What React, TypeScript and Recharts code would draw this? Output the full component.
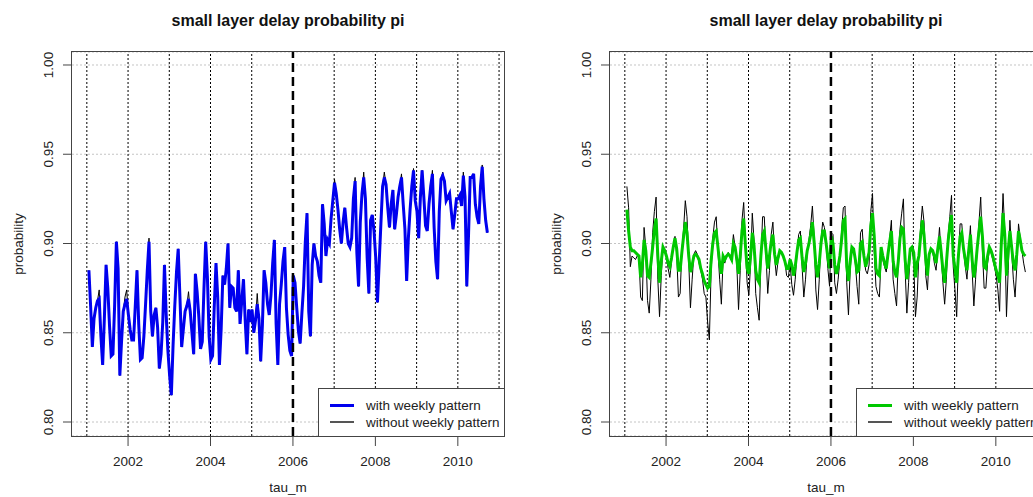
import React from 'react';
import { LineChart, Line, XAxis, YAxis, CartesianGrid, ReferenceLine } from 'recharts';

// time axis: 24 samples per year starting early 2001
const START_YEAR = 2001.05;
const STEP = 1 / 24;
const YEAR_TICKS = [2002, 2004, 2006, 2008, 2010];
const YEAR_LINES = [2001, 2002, 2003, 2004, 2005, 2007, 2008, 2009, 2010, 2011];
const BREAK_YEAR = 2006;
const PROB_TICKS = [0.8, 0.85, 0.9, 0.95, 1.0];
const X_DOMAIN: [number, number] = [2000.64, 2011.12];
const Y_DOMAIN: [number, number] = [0.79216, 1.00728];

const TITLE = 'small layer delay probability pi';
const LEGEND_LABELS = ['with weekly pattern', 'without weekly pattern'];

// left panel: with weekly pattern (blue) / without (black)
const leftWeekly = [
  0.885, 0.865, 0.842, 0.858, 0.864, 0.868, 0.869, 0.848, 0.832, 0.858,
  0.888, 0.875, 0.854, 0.837, 0.838, 0.866, 0.901, 0.886, 0.826, 0.845,
  0.862, 0.866, 0.869, 0.860, 0.852, 0.846, 0.846, 0.865, 0.885, 0.855,
  0.835, 0.836, 0.848, 0.866, 0.885, 0.901, 0.862, 0.848, 0.860, 0.864,
  0.853, 0.830, 0.838, 0.856, 0.888, 0.860, 0.840, 0.826, 0.815, 0.843,
  0.865, 0.884, 0.897, 0.870, 0.842, 0.852, 0.862, 0.865, 0.869, 0.862,
  0.850, 0.838, 0.883, 0.873, 0.859, 0.841, 0.845, 0.875, 0.901, 0.881,
  0.848, 0.835, 0.837, 0.865, 0.889, 0.870, 0.832,
  0.852, 0.882, 0.877, 0.886, 0.900, 0.864, 0.876, 0.875, 0.864, 0.862,
  0.885, 0.855, 0.868, 0.880, 0.857, 0.838, 0.863, 0.856, 0.863, 0.850,
  0.857, 0.866, 0.858, 0.834, 0.854, 0.885, 0.878, 0.866, 0.860, 0.871,
  0.889, 0.902, 0.855, 0.832, 0.866, 0.877, 0.890, 0.898, 0.864, 0.849,
  0.840, 0.837,
  0.882, 0.878, 0.864, 0.851, 0.844, 0.861, 0.876, 0.901, 0.917, 0.862,
  0.848, 0.888, 0.900, 0.893, 0.890, 0.882, 0.878, 0.922, 0.911, 0.893,
  0.902, 0.900, 0.914, 0.924, 0.934, 0.928, 0.919, 0.908, 0.900, 0.912,
  0.920, 0.909, 0.900, 0.898, 0.903, 0.925, 0.935, 0.895, 0.876, 0.912,
  0.928, 0.937, 0.925, 0.892, 0.872, 0.913, 0.916, 0.907, 0.892, 0.867,
  0.889, 0.911, 0.932, 0.937, 0.933, 0.920, 0.909, 0.922, 0.930, 0.908,
  0.916, 0.926, 0.932, 0.937, 0.922, 0.908, 0.879, 0.903, 0.919, 0.932,
  0.941, 0.924, 0.918, 0.903, 0.926, 0.941, 0.926, 0.910, 0.907, 0.922,
  0.932, 0.939, 0.909, 0.890, 0.880, 0.918, 0.936, 0.938, 0.935, 0.924,
  0.926, 0.928, 0.918, 0.908, 0.916, 0.925, 0.925, 0.927, 0.921, 0.938,
  0.926, 0.876, 0.904, 0.937, 0.937, 0.939, 0.922, 0.915, 0.911, 0.932,
  0.943, 0.925, 0.913, 0.906,
];

const leftPlain = [
  0.885, 0.865, 0.842, 0.858, 0.864, 0.868, 0.874, 0.848, 0.832, 0.858,
  0.888, 0.875, 0.854, 0.837, 0.838, 0.866, 0.901, 0.886, 0.826, 0.845,
  0.862, 0.870, 0.874, 0.860, 0.852, 0.846, 0.846, 0.865, 0.885, 0.855,
  0.835, 0.836, 0.848, 0.866, 0.885, 0.903, 0.862, 0.848, 0.860, 0.864,
  0.853, 0.830, 0.838, 0.856, 0.888, 0.860, 0.840, 0.826, 0.815, 0.843,
  0.865, 0.884, 0.897, 0.870, 0.842, 0.852, 0.862, 0.865, 0.873, 0.862,
  0.850, 0.838, 0.883, 0.873, 0.859, 0.841, 0.845, 0.875, 0.901, 0.881,
  0.848, 0.835, 0.837, 0.865, 0.889, 0.870, 0.832,
  0.852, 0.882, 0.877, 0.886, 0.900, 0.864, 0.876, 0.875, 0.864, 0.862,
  0.885, 0.855, 0.868, 0.880, 0.857, 0.838, 0.863, 0.856, 0.863, 0.850,
  0.857, 0.872, 0.858, 0.834, 0.854, 0.885, 0.878, 0.866, 0.860, 0.871,
  0.889, 0.902, 0.855, 0.832, 0.866, 0.877, 0.890, 0.898, 0.864, 0.849,
  0.840, 0.837,
  0.882, 0.878, 0.864, 0.851, 0.844, 0.861, 0.876, 0.901, 0.917, 0.862,
  0.848, 0.888, 0.900, 0.893, 0.890, 0.882, 0.878, 0.922, 0.911, 0.893,
  0.902, 0.900, 0.914, 0.924, 0.936, 0.928, 0.919, 0.908, 0.900, 0.912,
  0.920, 0.909, 0.900, 0.898, 0.903, 0.925, 0.937, 0.895, 0.876, 0.912,
  0.928, 0.940, 0.925, 0.892, 0.872, 0.913, 0.916, 0.907, 0.892, 0.867,
  0.889, 0.911, 0.932, 0.940, 0.933, 0.920, 0.909, 0.922, 0.930, 0.908,
  0.916, 0.926, 0.932, 0.939, 0.922, 0.908, 0.879, 0.903, 0.919, 0.932,
  0.942, 0.924, 0.918, 0.903, 0.926, 0.941, 0.926, 0.910, 0.907, 0.922,
  0.932, 0.941, 0.909, 0.890, 0.880, 0.918, 0.936, 0.940, 0.935, 0.924,
  0.926, 0.928, 0.918, 0.908, 0.916, 0.925, 0.925, 0.927, 0.921, 0.940,
  0.926, 0.876, 0.904, 0.937, 0.937, 0.939, 0.922, 0.915, 0.911, 0.932,
  0.944, 0.925, 0.913, 0.906,
];

// right panel: with weekly pattern (green) / without (black)
const rightWeekly = [
  0.919, 0.907, 0.898, 0.896, 0.896, 0.895, 0.894, 0.893, 0.881, 0.888,
  0.902, 0.896, 0.882, 0.881, 0.889, 0.898, 0.908, 0.914, 0.893, 0.878,
  0.890, 0.898, 0.896, 0.893, 0.889, 0.887, 0.892, 0.898, 0.903, 0.897,
  0.885, 0.885, 0.895, 0.904, 0.912, 0.906, 0.893, 0.884, 0.888, 0.893,
  0.894, 0.893, 0.891, 0.886, 0.883, 0.879, 0.877, 0.875, 0.876, 0.890,
  0.900, 0.906, 0.907, 0.898, 0.889, 0.883, 0.893, 0.891, 0.893, 0.894,
  0.893, 0.891, 0.900, 0.898, 0.891, 0.883, 0.893, 0.907, 0.914, 0.899,
  0.886, 0.883, 0.893, 0.906, 0.899, 0.885, 0.880, 0.878, 0.893, 0.905,
  0.907, 0.896, 0.886, 0.893, 0.901, 0.905, 0.894, 0.888, 0.892, 0.896,
  0.895, 0.893, 0.890, 0.886, 0.886, 0.891, 0.888, 0.882, 0.887, 0.895,
  0.902, 0.903, 0.892, 0.884, 0.889, 0.896, 0.900, 0.905, 0.912, 0.901,
  0.888, 0.881, 0.889, 0.900, 0.907, 0.907, 0.900, 0.892, 0.886, 0.904,
  0.900, 0.888, 0.883, 0.887, 0.893, 0.902, 0.913, 0.914, 0.887, 0.879,
  0.890, 0.898, 0.897, 0.891, 0.884, 0.885, 0.900, 0.901, 0.893, 0.887,
  0.891, 0.895, 0.910, 0.917, 0.904, 0.886, 0.883, 0.882, 0.898, 0.893,
  0.889, 0.886, 0.894, 0.901, 0.907, 0.890, 0.884, 0.881, 0.890, 0.903,
  0.909, 0.908, 0.891, 0.880, 0.887, 0.897, 0.898, 0.895, 0.881, 0.889,
  0.893, 0.904, 0.913, 0.905, 0.891, 0.882, 0.894, 0.897, 0.896, 0.893,
  0.889, 0.897, 0.904, 0.895, 0.885, 0.878, 0.889, 0.901, 0.910, 0.916,
  0.893, 0.886, 0.878, 0.893, 0.904, 0.906, 0.897, 0.891, 0.885, 0.896,
  0.905, 0.891, 0.881, 0.887, 0.898, 0.907, 0.915, 0.904, 0.887, 0.886,
  0.893, 0.898, 0.896, 0.893, 0.889, 0.885, 0.882, 0.878, 0.900, 0.917,
  0.905, 0.882, 0.896, 0.907, 0.898, 0.889, 0.885, 0.894, 0.907, 0.902,
  0.896, 0.894, 0.893,
];

const rightPlain = [
  0.932, 0.920, 0.887, 0.893, 0.892, 0.891, 0.893, 0.893, 0.870, 0.868,
  0.909, 0.898, 0.868, 0.861, 0.880, 0.906, 0.918, 0.926, 0.880, 0.859,
  0.882, 0.898, 0.896, 0.893, 0.886, 0.881, 0.890, 0.898, 0.904, 0.894,
  0.870, 0.872, 0.896, 0.908, 0.924, 0.915, 0.890, 0.864, 0.880, 0.894,
  0.896, 0.894, 0.889, 0.885, 0.880, 0.872, 0.870, 0.856, 0.846, 0.883,
  0.903, 0.912, 0.915, 0.896, 0.880, 0.866, 0.891, 0.889, 0.893, 0.895,
  0.893, 0.893, 0.905, 0.898, 0.888, 0.863, 0.885, 0.913, 0.923, 0.899,
  0.878, 0.871, 0.888, 0.917, 0.902, 0.872, 0.864, 0.857, 0.890, 0.915,
  0.915, 0.893, 0.872, 0.885, 0.905, 0.912, 0.892, 0.882, 0.890, 0.896,
  0.895, 0.893, 0.890, 0.882, 0.881, 0.889, 0.877, 0.871, 0.880, 0.894,
  0.905, 0.907, 0.887, 0.870, 0.880, 0.895, 0.902, 0.910, 0.921, 0.904,
  0.874, 0.863, 0.880, 0.902, 0.912, 0.909, 0.900, 0.886, 0.876, 0.906,
  0.905, 0.878, 0.872, 0.880, 0.891, 0.907, 0.920, 0.921, 0.878, 0.860,
  0.885, 0.898, 0.897, 0.889, 0.876, 0.866, 0.906, 0.908, 0.893, 0.885,
  0.883, 0.888, 0.918, 0.928, 0.896, 0.876, 0.872, 0.870, 0.892, 0.891,
  0.887, 0.884, 0.893, 0.903, 0.913, 0.880, 0.872, 0.865, 0.890, 0.908,
  0.917, 0.925, 0.885, 0.861, 0.878, 0.895, 0.897, 0.890, 0.859, 0.870,
  0.894, 0.909, 0.921, 0.912, 0.882, 0.874, 0.894, 0.896, 0.896, 0.889,
  0.885, 0.896, 0.909, 0.893, 0.878, 0.866, 0.880, 0.904, 0.915, 0.927,
  0.887, 0.874, 0.859, 0.890, 0.911, 0.911, 0.896, 0.887, 0.880, 0.896,
  0.910, 0.885, 0.865, 0.880, 0.898, 0.912, 0.926, 0.896, 0.875, 0.875,
  0.889, 0.896, 0.895, 0.891, 0.887, 0.882, 0.874, 0.862, 0.902, 0.928,
  0.907, 0.859, 0.885, 0.913, 0.896, 0.880, 0.870, 0.887, 0.911, 0.903,
  0.896, 0.889, 0.884,
];

const FONT = '"Liberation Sans", Arial, sans-serif';
const TEXT = '#222';
const FRAME = '#444';

const buildRows = (weekly: number[], plain: number[]) =>
  weekly.map((v, i) => ({ t: START_YEAR + i * STEP, weekly: v, plain: plain[i] }));

const XTick = (props: any) => {
  const { x, y, payload } = props;
  return (
    <text x={x} y={y + 15} textAnchor="middle" dominantBaseline="central" fontSize={13.5} fontFamily={FONT} fill={TEXT}>
      {payload.value}
    </text>
  );
};

const YTick = (props: any) => {
  const { x, y, payload } = props;
  const cx = x - 14;
  return (
    <text x={cx} y={y} transform={`rotate(-90 ${cx} ${y})`} textAnchor="middle" dominantBaseline="central" fontSize={13.5} fontFamily={FONT} fill={TEXT}>
      {Number(payload.value).toFixed(2)}
    </text>
  );
};

const Panel: React.FC<{ left: number; weekly: number[]; plain: number[]; color: string }> = ({ left, weekly, plain, color }) => {
  const rows = buildRows(weekly, plain);
  return (
    <div style={{ position: 'absolute', left, top: 0, width: 515, height: 497, fontFamily: FONT, color: TEXT }}>
      <LineChart width={515} height={497} data={rows} margin={{ top: 52, right: 11, bottom: 31, left: 42 }}>
        <CartesianGrid vertical={false} stroke="#c4c4c4" strokeDasharray="2 2" />
        <XAxis
          dataKey="t" type="number" domain={X_DOMAIN} ticks={YEAR_TICKS} allowDataOverflow
          height={30} tickSize={10} tickMargin={0} axisLine={false}
          tickLine={{ stroke: FRAME }} tick={<XTick />} interval={0}
        />
        <YAxis
          type="number" domain={Y_DOMAIN} ticks={PROB_TICKS} allowDataOverflow
          width={30} tickSize={9} tickMargin={0} axisLine={false}
          tickLine={{ stroke: FRAME }} tick={<YTick />} interval={0}
        />
        {YEAR_LINES.map((yr) => (
          <ReferenceLine key={yr} x={yr} stroke="#000" strokeWidth={1} strokeDasharray="2 2" />
        ))}
        <Line type="linear" dataKey="plain" stroke="#000" strokeWidth={1} dot={false} activeDot={false} isAnimationActive={false} />
        <Line type="linear" dataKey="weekly" stroke={color} strokeWidth={3} dot={false} activeDot={false} isAnimationActive={false} />
        <ReferenceLine x={BREAK_YEAR} stroke="#000" strokeWidth={2.5} strokeDasharray="9 5" />
      </LineChart>

      {/* plot frame */}
      <div style={{ position: 'absolute', left: 71, top: 51, width: 434, height: 386, boxSizing: 'border-box', border: `1.5px solid ${FRAME}` }} />

      {/* legend */}
      <div style={{ position: 'absolute', left: 318, top: 388, width: 187, height: 49, boxSizing: 'border-box', background: '#fff', border: `1.5px solid ${FRAME}` }}>
        <div style={{ position: 'absolute', left: 11, top: 14.5, width: 24, height: 3, background: color }} />
        <div style={{ position: 'absolute', left: 11, top: 32, width: 24, height: 2, background: '#555' }} />
        <div style={{ position: 'absolute', left: 47, top: 8, fontSize: 13.5, lineHeight: '17px', whiteSpace: 'nowrap' }}>{LEGEND_LABELS[0]}</div>
        <div style={{ position: 'absolute', left: 47, top: 25, fontSize: 13.5, lineHeight: '17px', whiteSpace: 'nowrap' }}>{LEGEND_LABELS[1]}</div>
      </div>

      {/* title and axis labels */}
      <div style={{ position: 'absolute', left: 288, top: 21, transform: 'translate(-50%, -50%)', fontSize: 16, fontWeight: 'bold', whiteSpace: 'nowrap', color: '#111' }}>{TITLE}</div>
      <div style={{ position: 'absolute', left: 18, top: 244, transform: 'translate(-50%, -50%) rotate(-90deg)', fontSize: 13.5, whiteSpace: 'nowrap' }}>probability</div>
      <div style={{ position: 'absolute', left: 288, top: 487, transform: 'translate(-50%, -50%)', fontSize: 13.5, whiteSpace: 'nowrap' }}>tau_m</div>
    </div>
  );
};

export default function App() {
  return (
    <div style={{ position: 'absolute', left: 0, top: 0, width: 1033, height: 497, overflow: 'hidden', background: '#fff' }}>
      <Panel left={0} weekly={leftWeekly} plain={leftPlain} color="#0000ee" />
      <Panel left={538} weekly={rightWeekly} plain={rightPlain} color="#00c800" />
    </div>
  );
}
